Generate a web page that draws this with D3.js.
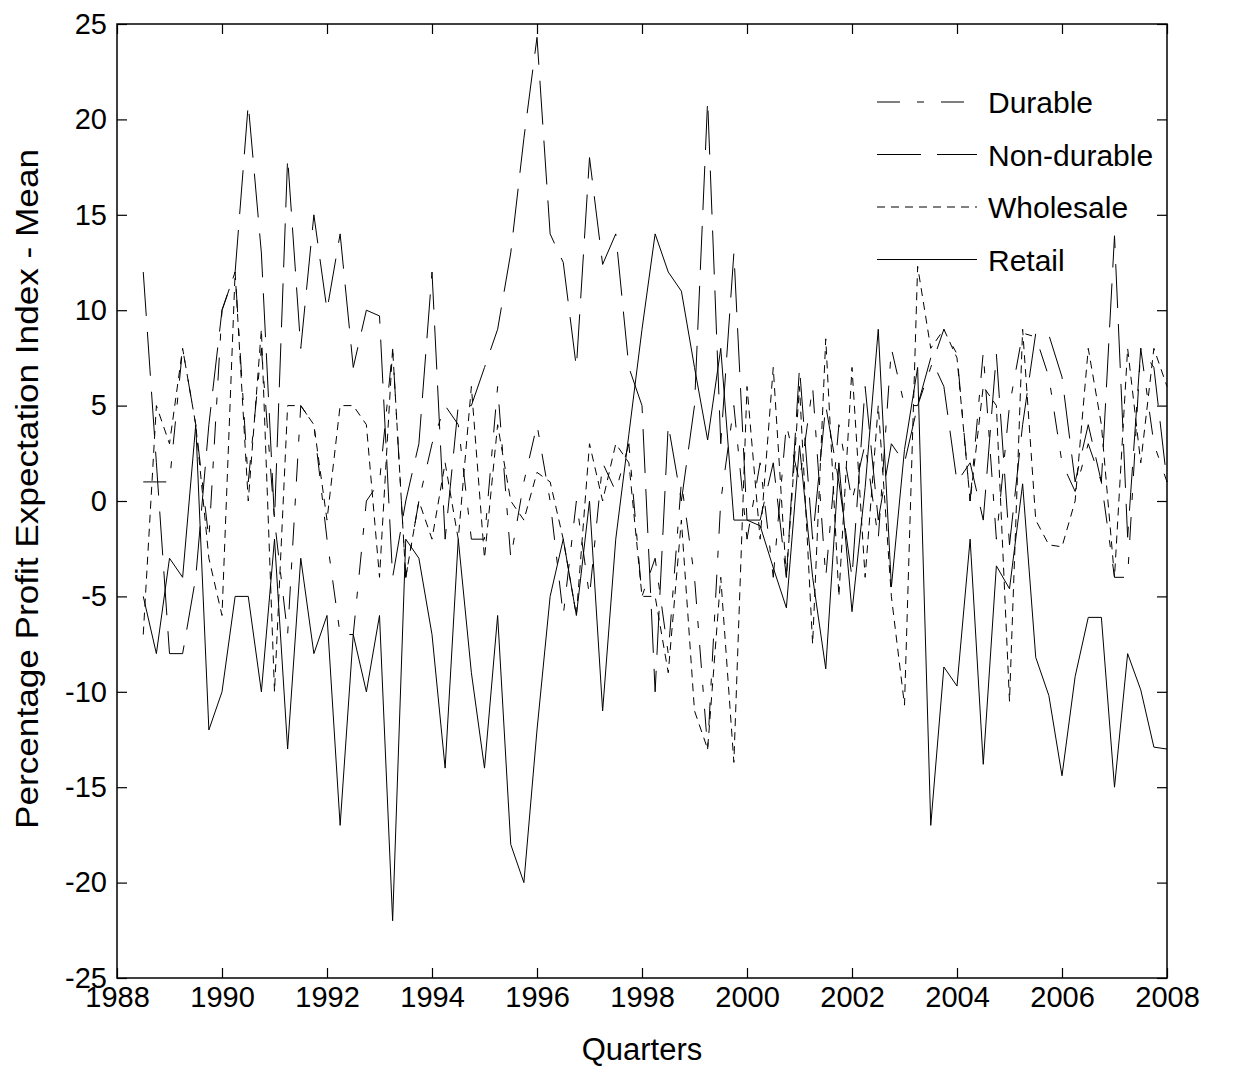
<!DOCTYPE html>
<meta charset="utf-8">
<head>
    <title>Profit Expectation Index</title>
    <style>
        body { margin: 0; background: #fff; }
        text { font-family: "Liberation Sans", Arial, sans-serif; fill: #000; }
    </style>
</head>
<body>
<svg width="1240" height="1075"></svg>
<script src="https://d3js.org/d3.v7.min.js"></script>
<script>

    // quarterly observations, first one is 1988.5
    var firstQuarter = 1988.5;

    var durable = [1, 1, 1, 8, 4, -2, 10, 12, 1, 8, -1, -7, 5, 4, -2, -7, -7, 0, 1, 8, -4, 0, 3, 5, 4, -2, -2, 6, -3, 1, 4, 0, -6, 0, -5, 2, 0.5, 3, -5, -3, -8, 1, -4, -13, 0, 5, -2, 2, -4, 4, 1, 6, -4, 4, 0, 3, -2, 8, 5, 5, 7, 9, 7.7, 0, 7.8, -2, 5, 8.8, 8.6, 6.5, 2, 0.5, 3, 1, -4, -4, 8, 3, 1];
    var nonDurable = [12, 2, -8, -8, -4, 4, 10, 12, 20.8, 13, -1, 18, 8, 15, 10, 14, 7, 10, 9.7, -4, 0, 3, 12, -2, 5, 5, 7, 9, 13, 19, 24.3, 14, 12.5, 7, 18, 12.4, 14, 7, 5, -10, 4, 0, 5, 21, 3, 13, -1, -1, 2, -4, 7, -2, 5, 1, -4, 6, -1, 3, 2, 5, 7.5, 6, 1, 2, -1, 7.7, -2.3, 4, 8.8, 8.7, 6.5, 1, 4, 1, 13.9, -1.9, 8, 7, 1];
    var wholesale = [-7, 5, 3, 8, 4, -3, -6, 12, 0, 9, -10, 5, 5, 4, -1, 5, 5, 4, -4, 8, -4, 0, -2, 2, -2, 6, -3, 4, 0, -1, 1.5, 1, -2, -6, 3, 0, 3, 2, -5, -5, -9, -1, -11, -13, -4, -13.7, 6, -2, 7, -4, 6, -7.5, 8.5, -5, 7, -4, 5, -5, -10.7, 12.3, 8, 9, 7.5, 0, 6, 5, -10.5, 9, -1, -2.3, -2.4, 0, 8, 4, -4, 8, 2, 8, 6];
    var retail = [-5, -8, -3, -4, 4, -12, -10, -5, -5, -10, -2, -13, -3, -8, -6, -17, -7, -10, -6, -22, -2, -3, -7, -14, -2, -9, -14, -6, -18, -20, -12, -5, -2, -6, 0, -11, -2, 3.5, 9, 14, 12, 11, 7, 3.2, 8, -1, -1, -1.3, -3.5, -5.6, 2.9, -4, -8.8, 2, -5.8, 0.7, 9, -4.5, 2.7, 7, -17, -8.7, -9.7, -2, -13.8, -3.4, -4.6, 0.9, -8.2, -10.2, -14.4, -9.2, -6.1, -6.1, -15, -8, -9.9, -12.9, -13];

    var seriesNames = ["Durable", "Non-durable", "Wholesale", "Retail"];
    var dashes = ["23,17,7,17", "44,16", "8,6", null];

    var yTicks = [-25, -20, -15, -10, -5, 0, 5, 10, 15, 20, 25];
    var xTicks = [1988, 1990, 1992, 1994, 1996, 1998, 2000, 2002, 2004, 2006, 2008];

    var svg = d3.select("svg");
    var plotLeft = 117, plotRight = 1167, plotTop = 24, plotBottom = 978;

    var x = d3.scaleLinear().domain([1988, 2008]).range([plotLeft, plotRight]);
    var y = d3.scaleLinear().domain([-25, 25]).range([plotBottom, plotTop]);

    // plain hyphen for negatives, like the original
    var plainNumber = function (d) { return String(d); };

    //axes, ticks point inwards on all four sides like a matlab box
    svg.append("g")
            .attr("transform", "translate(0," + plotBottom + ")")
            .call(d3.axisBottom(x).tickValues(xTicks).tickFormat(plainNumber)
                    .tickSizeInner(-10).tickSizeOuter(0).tickPadding(8));
    svg.append("g")
            .attr("transform", "translate(" + plotLeft + ",0)")
            .call(d3.axisLeft(y).tickValues(yTicks).tickFormat(plainNumber)
                    .tickSizeInner(-10).tickSizeOuter(0).tickPadding(10));
    svg.append("g")
            .attr("transform", "translate(0," + plotTop + ")")
            .call(d3.axisTop(x).tickValues(xTicks).tickFormat("")
                    .tickSizeInner(-10).tickSizeOuter(0));
    svg.append("g")
            .attr("transform", "translate(" + plotRight + ",0)")
            .call(d3.axisRight(y).tickValues(yTicks).tickFormat("")
                    .tickSizeInner(-10).tickSizeOuter(0));

    svg.selectAll(".domain").remove();
    svg.selectAll(".tick line").attr("stroke", "#000").attr("stroke-width", 1.2);
    svg.selectAll(".tick text")
            .style("font-family", "'Liberation Sans', Arial, sans-serif")
            .style("font-size", "29px")
            .attr("fill", "#000");

    svg.append("rect")
            .attr("x", plotLeft).attr("y", plotTop)
            .attr("width", plotRight - plotLeft).attr("height", plotBottom - plotTop)
            .attr("fill", "none").attr("stroke", "#000").attr("stroke-width", 1.5);

    //lines
    var all = [durable, nonDurable, wholesale, retail];
    var line = d3.line()
            .x(function (d, i) { return x(firstQuarter + i * 0.25); })
            .y(function (d) { return y(d); });

    var plot = svg.append("g");
    all.forEach(function (values, s) {
        plot.append("path")
                .datum(values)
                .attr("d", line)
                .attr("fill", "none")
                .attr("stroke", "#000")
                .attr("stroke-width", 1)
                .attr("stroke-dasharray", dashes[s]);
    });

    //legend
    var legend = svg.append("g").attr("transform", "translate(877,102)");
    seriesNames.forEach(function (name, s) {
        var row = legend.append("g").attr("transform", "translate(0," + (s * 52.5) + ")");
        row.append("line")
                .attr("x1", 0).attr("x2", 100)
                .attr("stroke", "#000").attr("stroke-width", 1)
                .attr("stroke-dasharray", dashes[s]);
        row.append("text")
                .attr("x", 111).attr("y", 11)
                .style("font-size", "30px")
                .text(name);
    });

    //axis titles
    svg.append("text")
            .attr("x", (plotLeft + plotRight) / 2).attr("y", 1060)
            .attr("text-anchor", "middle")
            .style("font-size", "31px")
            .text("Quarters");
    svg.append("text")
            .attr("transform", "translate(38,489) rotate(-90)")
            .attr("text-anchor", "middle")
            .attr("textLength", 680)
            .attr("lengthAdjust", "spacingAndGlyphs")
            .style("font-size", "31px")
            .text("Percentage Profit Expectation Index - Mean");
</script>
</body>
